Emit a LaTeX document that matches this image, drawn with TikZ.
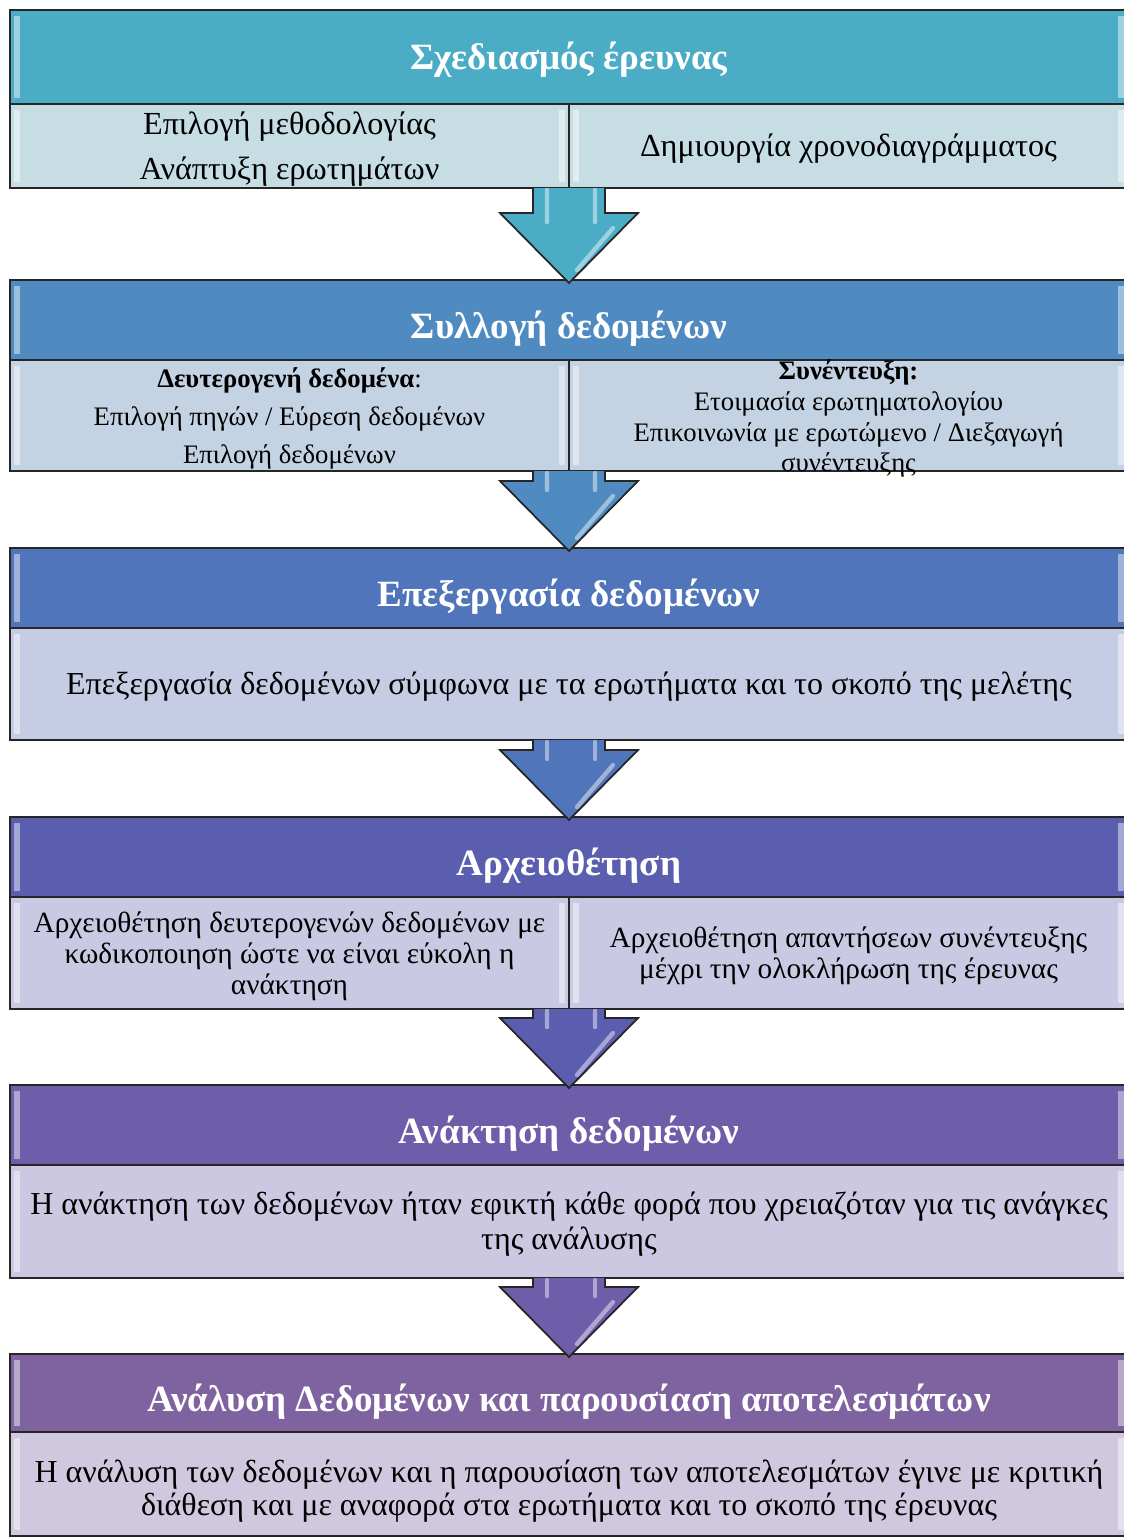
\documentclass[tikz,border=0pt]{standalone}
\usepackage{fontspec}
\setmainfont{Liberation Serif}
\usetikzlibrary{calc}
\definecolor{headA}{HTML}{4BACC6}
\definecolor{headB}{HTML}{4F8BC0}
\definecolor{headC}{HTML}{5175BA}
\definecolor{headD}{HTML}{5B5EAF}
\definecolor{headE}{HTML}{6E5DA8}
\definecolor{headF}{HTML}{7F62A0}
\definecolor{cellA}{HTML}{C6DDE4}
\definecolor{cellB}{HTML}{C4D3E4}
\definecolor{cellC}{HTML}{C6CCE4}
\definecolor{cellD}{HTML}{C9C9E3}
\definecolor{cellE}{HTML}{CCC8E1}
\definecolor{cellF}{HTML}{CFC8DE}
\newcommand{\pxu}{0.02cm}
\newcommand{\stagearrow}[3]{%
  \draw[flowarrow, fill=#3] ($(#1)+(-36,0)$) -- ($(#2)+(-36,-67)$) -- ($(#2)+(-69,-67)$)
    -- ($(#2)+(0,3)$) -- ($(#2)+(69,-67)$) -- ($(#2)+(36,-67)$) -- ($(#1)+(36,0)$);
  \draw[shine] ($(#1)+(-22,2)$) -- ($(#2)+(-22,-58)$);
  \draw[shine] ($(#1)+(26,2)$) -- ($(#2)+(26,-58)$);
  \draw[shine] ($(#2)+(44,-52)$) -- ($(#2)+(8,-10)$);
}

\begin{document}
\begin{tikzpicture}[x=\pxu,y=-\pxu,
  glossy/.style={path picture={
    \fill[white,opacity=.45] ($(path picture bounding box.north west)+(4,6)$) rectangle ($(path picture bounding box.south west)+(10,-6)$);
    \fill[white,opacity=.45] ($(path picture bounding box.north east)+(-10,6)$) rectangle ($(path picture bounding box.south east)+(-4,-6)$);}},
  box/.style={draw=black!85, line width=1pt, inner sep=0pt, outer sep=0pt, anchor=north west, glossy},
  head/.style={box, minimum width=1118*\pxu},
  headtext/.style={text=white, font=\fontsize{21.1}{25}\selectfont\bfseries, inner sep=0pt},
  cell/.style={box},
  celltext/.style={align=center, inner sep=0pt, yshift=-1.7pt},
  flowarrow/.style={draw=black!85, line width=1pt, line join=miter},
  shine/.style={white, opacity=.45, line width=2.5pt, line cap=round}]
\useasboundingbox (0,0) rectangle (1124,1539);

%research design
\node[head, fill=headA, minimum height=94*\pxu] (h1) at (10,10) {};
\node[headtext] (s1) at ($(h1)+(0,3)$) {Σχεδιασμός έρευνας};
\node[cell, fill=cellA, minimum width=559*\pxu, minimum height=84*\pxu] (b1a) at (10,104) {};
\node[cell, fill=cellA, minimum width=559*\pxu, minimum height=84*\pxu] (b1b) at (569,104) {};
\node[celltext, font=\fontsize{18.3}{21}\selectfont] (t1a) at (b1a) {Επιλογή μεθοδολογίας\\[4.6pt]Ανάπτυξη ερωτημάτων};
\node[celltext, font=\fontsize{18.3}{21}\selectfont] (t1b) at (b1b) {Δημιουργία χρονοδιαγράμματος};

%data collection
\node[head, fill=headB, minimum height=80*\pxu] (h2) at (10,280) {};
\node[headtext] (s2) at ($(h2)+(0,9)$) {Συλλογή δεδομένων};
\node[cell, fill=cellB, minimum width=559*\pxu, minimum height=111*\pxu] (b2a) at (10,360) {};
\node[cell, fill=cellB, minimum width=559*\pxu, minimum height=111*\pxu] (b2b) at (569,360) {};
\node[celltext, font=\fontsize{15.2}{21.6}\selectfont] (t2a) at (b2a) {\textbf{Δευτερογενή δεδομένα}:\\Επιλογή πηγών / Εύρεση δεδομένων\\Επιλογή δεδομένων};
\node[celltext, font=\fontsize{15.2}{17.6}\selectfont] (t2b) at (b2b) {\textbf{Συνέντευξη:}\\Ετοιμασία ερωτηματολογίου\\Επικοινωνία με ερωτώμενο / Διεξαγωγή\\συνέντευξης};

%data processing
\node[head, fill=headC, minimum height=80*\pxu] (h3) at (10,548) {};
\node[headtext] (s3) at ($(h3)+(0,9)$) {Επεξεργασία δεδομένων};
\node[cell, fill=cellC, minimum width=1118*\pxu, minimum height=112*\pxu] (b3) at (10,628) {};
\node[celltext, font=\fontsize{18.2}{21}\selectfont] (t3) at (b3) {Επεξεργασία δεδομένων σύμφωνα με τα ερωτήματα και το σκοπό της μελέτης};

%archiving
\node[head, fill=headD, minimum height=80*\pxu] (h4) at (10,817) {};
\node[headtext] (s4) at ($(h4)+(0,9)$) {Αρχειοθέτηση};
\node[cell, fill=cellD, minimum width=559*\pxu, minimum height=112*\pxu] (b4a) at (10,897) {};
\node[cell, fill=cellD, minimum width=559*\pxu, minimum height=112*\pxu] (b4b) at (569,897) {};
\node[celltext, font=\fontsize{16.7}{17.6}\selectfont] (t4a) at (b4a) {Αρχειοθέτηση δευτερογενών δεδομένων με\\κωδικοποιηση ώστε να είναι εύκολη η\\ανάκτηση};
\node[celltext, font=\fontsize{16.7}{17.6}\selectfont] (t4b) at (b4b) {Αρχειοθέτηση απαντήσεων συνέντευξης\\μέχρι την ολοκλήρωση της έρευνας};

%retrieval
\node[head, fill=headE, minimum height=80*\pxu] (h5) at (10,1085) {};
\node[headtext] (s5) at ($(h5)+(0,9)$) {Ανάκτηση δεδομένων};
\node[cell, fill=cellE, minimum width=1118*\pxu, minimum height=113*\pxu] (b5) at (10,1165) {};
\node[celltext, font=\fontsize{18.2}{19.9}\selectfont] (t5) at (b5) {Η ανάκτηση των δεδομένων ήταν εφικτή κάθε φορά που χρειαζόταν για τις ανάγκες\\της ανάλυσης};

%analysis
\node[head, fill=headF, minimum height=78*\pxu] (h6) at (10,1354) {};
\node[headtext] (s6) at ($(h6)+(0,9)$) {Ανάλυση Δεδομένων και παρουσίαση αποτελεσμάτων};
\node[cell, fill=cellF, minimum width=1118*\pxu, minimum height=104*\pxu] (b6) at (10,1432) {};
\node[celltext, font=\fontsize{18.2}{18.8}\selectfont] (t6) at ($(b6)+(0,4)$) {Η ανάλυση των δεδομένων και η παρουσίαση των αποτελεσμάτων έγινε με κριτική\\διάθεση και με αναφορά στα ερωτήματα και το σκοπό της έρευνας};

%arrows
\stagearrow{b1a.south east}{h2.north}{headA}
\stagearrow{b2a.south east}{h3.north}{headB}
\stagearrow{b3.south}{h4.north}{headC}
\stagearrow{b4a.south east}{h5.north}{headD}
\stagearrow{b5.south}{h6.north}{headE}
\end{tikzpicture}
\end{document}
